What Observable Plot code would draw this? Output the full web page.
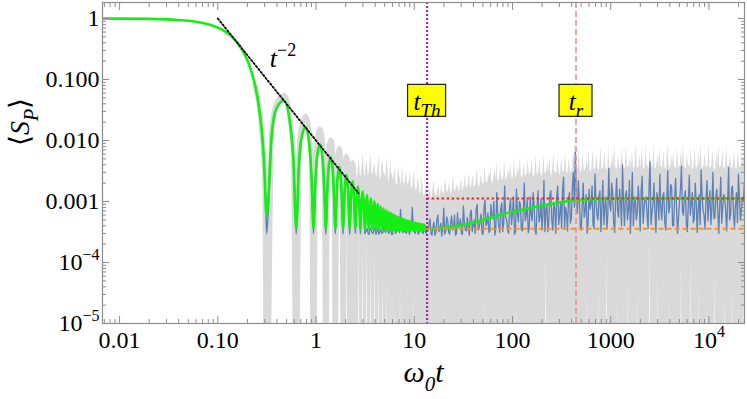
<!DOCTYPE html>
<html><head><meta charset="utf-8">
<script src="https://cdn.jsdelivr.net/npm/d3@7"></script>
<script src="https://cdn.jsdelivr.net/npm/@observablehq/plot@0.6"></script>
<style>
html,body{margin:0;padding:0;background:#fff}
</style>
</head><body><div id="chart"></div>
<script>
// ---------- data ----------
const xTicks = [0.01, 0.1, 1, 10, 100, 1000, 10000];
const xTickLabels = ["0.01", "0.10", "1", "10", "100", "1000", "10^4"];
const yTicks = [1e-5, 1e-4, 0.001, 0.01, 0.1, 1];
const yTickLabels = ["10^\u22125", "10^\u22124", "0.001", "0.010", "0.100", "1"];

const tThouless = 13.5;      // purple dotted line
const tRelax = 443;          // pink dashed line
const plateauHigh = 0.00112; // red dotted
const plateauLow = 0.000356; // orange dashed
const labelS = 0.043;        // height of the yellow labels
const powerLabelT = 0.338, powerLabelS = 0.22;

// t^-2 guide
const guideT = [0.1, 2.7];
const guideS = [1.0, 0.00137];

// green: mean curve
const greenT = [0.0067, 0.02, 0.04, 0.06, 0.08, 0.1, 0.12, 0.14, 0.16, 0.18, 0.2, 0.22, 0.24, 0.26, 0.28, 0.29, 0.30, 0.305, 0.31, 0.3142,
  0.3534, 0.3927, 0.4712, 0.5498, 0.5890, 0.6283,
  0.6676, 0.7069, 0.7854, 0.8639, 0.9032, 0.9425,
  0.9817, 1.0210, 1.0996, 1.1781, 1.2174, 1.2566,
  1.2959, 1.3352, 1.4137, 1.4923, 1.5315, 1.5708,
  1.6101, 1.6493, 1.7279, 1.8064, 1.8457, 1.885,
  1.9242, 1.9635, 2.0420, 2.1206, 2.1598, 2.1991,
  2.2384, 2.2777, 2.3562, 2.4347, 2.4740, 2.5133,
  2.5525, 2.5918, 2.6704, 2.7489, 2.7882, 2.8274,
  2.9060, 2.9845, 3.0631, 3.1416,
  3.2987, 3.4558, 3.6128, 3.7699, 3.9270, 4.0841, 4.2412, 4.3982, 4.5553, 4.7124,
  4.8695, 5.0265, 5.1836, 5.3407, 5.4978, 5.6549, 5.8119, 5.9690, 6.1261, 6.2832,
  6.4403, 6.5973, 6.7544, 6.9115, 7.0686, 7.2257, 7.3827, 7.5398, 7.6969, 7.8540,
  8.0111, 8.1681, 8.3252, 8.4823, 8.6394, 8.7965, 8.9535, 9.1106, 9.2677, 9.4248,
  9.5819, 9.7389, 9.8960, 10.0531, 10.2102, 10.3673, 10.5243, 10.6814, 10.8385, 10.9956,
  11.1527, 11.3097, 11.4668, 11.6239, 11.7810, 11.9381, 12.0951, 12.2522, 12.4093, 12.5664,
  12.7235, 12.8805,
  13.5, 20, 29, 40, 55, 80, 120, 180, 262, 350, 453, 700, 1200, 3000, 23000];
const greenS = [1.0, 0.987, 0.948, 0.886, 0.804, 0.708, 0.603, 0.496, 0.390, 0.293, 0.207, 0.135, 0.0793, 0.0396, 0.0146, 0.0071, 0.0026, 0.00125, 0.0007, 0.00058,
  0.0121, 0.0328, 0.0454, 0.0169, 0.00457, 0.00036,
  0.00364, 0.01036, 0.01656, 0.00705, 0.00215, 0.00036,
  0.00187, 0.00515, 0.00862, 0.00395, 0.00134, 0.00036,
  0.00122, 0.00315, 0.00535, 0.0026, 0.00097, 0.00036,
  0.000915, 0.00219, 0.0037, 0.00188, 0.00078, 0.00036,
  0.000746, 0.00165, 0.00275, 0.00146, 0.000664, 0.00036,
  0.000642, 0.00131, 0.00215, 0.00119, 0.000589, 0.00036,
  0.000575, 0.00109, 0.00175, 0.00101, 0.000538, 0.00035,
  0.000942, 0.00147, 0.000883, 0.00035,
  0.00127, 0.00035, 0.00112, 0.00035, 0.000998, 0.00035, 0.000906, 0.00035, 0.000832, 0.00035,
  0.000772, 0.00034, 0.000722, 0.00034, 0.000681, 0.00034, 0.000646, 0.00034, 0.000616, 0.00034,
  0.000591, 0.00034, 0.000569, 0.00034, 0.00055, 0.00034, 0.000533, 0.00034, 0.000519, 0.00034,
  0.000506, 0.00034, 0.000494, 0.00034, 0.000484, 0.00034, 0.000475, 0.00034, 0.000466, 0.00034,
  0.000459, 0.00034, 0.000452, 0.00034, 0.000446, 0.00034, 0.00044, 0.00034, 0.000435, 0.00034,
  0.00043, 0.00034, 0.000426, 0.00034, 0.000422, 0.00034, 0.000418, 0.00034, 0.000415, 0.00034,
  0.000412, 0.00034,
  0.00036, 0.00037, 0.000405, 0.00045, 0.00052, 0.00062, 0.00072, 0.00083, 0.00093, 0.001, 0.00105, 0.00109, 0.00111, 0.00112, 0.00112];

// zeros of the early oscillation and the blue minima there
const zeroT = [0.3142, 0.6283, 0.9425, 1.2566, 1.5708, 1.885, 2.1991, 2.5133, 2.8274, 3.1416];
const blueDipS = [2.95e-4, 2.95e-4, 3.0e-4, 2.9e-4, 3.0e-4, 2.95e-4, 2.9e-4, 3.0e-4, 2.95e-4, 3.0e-4];

// gray: single realisation, early lobes (0 = below the axis)
const grayLobeT = [0.24, 0.28, 0.30, 0.3142, 0.3534, 0.3927, 0.4712, 0.5498, 0.5890, 0.6283, 0.6676, 0.7069, 0.7854, 0.8639, 0.9032, 0.9425,
  0.9817, 1.0210, 1.0996, 1.1781, 1.2174, 1.2566, 1.2959, 1.3352, 1.4137, 1.4923, 1.5315, 1.5708, 1.6101, 1.6493, 1.7279, 1.8064, 1.8457, 1.885,
  1.9242, 1.9635, 2.0420, 2.1206, 2.1598, 2.1991, 2.2384, 2.2777, 2.3562, 2.4347, 2.4740, 2.5133];
const grayLobeS = [0.0793, 0.0146, 0.0026, 0, 0.0145, 0.039, 0.055, 0.020, 0.0055, 0, 0.0055, 0.0155, 0.025, 0.0106, 0.0032, 0,
  0.0034, 0.0093, 0.0155, 0.0071, 0.0024, 0, 0.0023, 0.006, 0.0102, 0.0049, 0.0018, 0, 0.0018, 0.0044, 0.0074, 0.0038, 0.0016, 0,
  0.0015, 0.0033, 0.0055, 0.0029, 0.0013, 0, 0.0013, 0.0026, 0.0043, 0.0024, 0.0012, 0];

// noisy part, sampled every 0.02 in log10(t) from log10(t) = 0.4 (and at the half steps); units of 1e-4
const noiseLogT0 = 0.4, noiseLogStep = 0.02;
const grayHi = [45, 22, 52, 26, 60, 24, 48, 30, 55, 27,
  42, 25, 58, 22, 47, 28, 52, 20, 44, 26,
  38, 18, 35, 22, 40, 17, 32, 20, 30, 16,
  33, 15, 25, 13, 28, 12, 17,
  12, 18, 11, 22, 13, 16, 12, 20, 13, 24,
  14, 21, 13, 26, 15, 19, 14, 23, 16, 28,
  17, 30, 16, 26, 18, 35, 17, 28, 19, 38,
  20, 29, 40, 19, 33, 45, 21, 36, 22, 48,
  24, 35, 42, 22, 50, 25, 38, 55, 24, 44,
  26, 52, 28, 46, 24, 58, 27, 48, 25, 60,
  28, 45, 55, 26, 62, 29, 50, 27, 57, 30,
  65, 28, 53, 30, 70, 120, 32, 75, 29, 62,
  33, 56, 68, 30, 72, 34, 60, 31, 82, 35,
  64, 32, 75, 36, 66, 90, 33, 58, 35, 78,
  34, 85, 37, 54, 68, 32, 95, 36, 60, 73,
  33, 80, 38, 64, 35, 88, 34, 62, 76, 36,
  70, 33, 92, 37, 57, 67, 34, 80, 36, 72,
  85, 35, 60, 38, 74, 33, 78, 36, 66, 90,
  34, 62, 37, 88, 35, 70, 32, 64, 80, 36,
  74, 34, 86, 38, 63, 35, 72, 33, 68, 37, 58, 66];
const grayHiHalf = [30, 35, 28, 40, 33, 38, 26, 42, 30, 36,
  28, 34, 25, 38, 30, 24, 36, 27, 30, 22,
  25, 20, 28, 18, 22, 24, 19, 21, 17, 20,
  18, 16, 19, 14, 15, 13, 12,
  13, 12, 15, 14, 12, 18, 13, 14, 16, 15,
  16, 14, 18, 15, 17, 16, 18, 15, 19, 17,
  19, 18, 22, 17, 20, 21, 19, 22, 20, 21,
  22, 24, 21, 25, 23, 22, 26, 24, 25, 23,
  26, 24, 28, 26, 25, 30, 27, 26, 29, 27,
  30, 28, 32, 27, 30, 29, 33, 28, 31, 30,
  32, 30, 28, 34, 31, 30, 35, 29, 32, 34,
  31, 36, 30, 33, 45, 40, 34, 32, 37, 31,
  36, 34, 32, 38, 33, 37, 35, 40, 33, 36,
  38, 34, 36, 42, 33, 39, 36, 35, 41, 34,
  37, 36, 40, 33, 38, 42, 35, 37, 34, 40,
  36, 39, 34, 41, 37, 35, 40, 36, 38, 35,
  39, 36, 42, 34, 38, 40, 35, 37, 41, 36,
  38, 35, 40, 37, 36, 42, 34, 39, 37, 35,
  40, 36, 38, 35, 41, 37, 34, 39, 36, 40,
  35, 38, 37, 40, 34, 39, 36, 38, 35, 37, 39];
const grayLo = [3, 0, 4, 0, 2.5, 0, 3, 0, 1.5, 0,
  2, 0, 1, 0, 0.8, 0, 0.5, 0, 0.3, 0,
  0.2, 0, 0, 0.4, 0, 0, 0.15, 0, 0, 0,
  0.3, 0, 0, 0.12, 0, 0, 0,
  0, 0, 0, 0, 0, 0, 0, 0, 0.2, 0,
  0, 0, 0, 0, 0, 0, 0, 0.15, 0, 0,
  0, 0.12, 0, 0, 0, 0, 0, 0, 0, 0.3,
  0, 0, 0, 0, 0, 0, 0, 0.15, 0, 0,
  0, 0, 0, 0, 0, 0.25, 0, 0, 0, 0,
  0, 0, 0, 0.12, 0, 0, 0, 0, 0, 0,
  1.5, 0, 0, 0, 0, 0, 0, 0.18, 0, 0,
  0, 0, 0, 0, 0, 0.2, 0, 0, 0, 0,
  0, 0.3, 0, 0, 0, 0, 0, 0.4, 0, 0,
  0, 1.6, 0, 0, 0, 0, 0.2, 0, 0, 0,
  0, 0, 0.5, 0, 0, 0, 0, 0.3, 0, 0,
  0, 0, 0, 2.6, 0, 0, 0, 0.6, 0, 0,
  0, 0, 0, 0.25, 0, 0, 0, 0, 0, 1.2,
  0, 0, 0, 0, 1.2, 0, 0, 0, 0.4, 0,
  0, 0, 0.2, 0, 0, 0, 0.7, 0, 0, 0,
  0, 0.3, 0, 0, 0, 0.5, 0, 0, 0.2, 0, 0, 0.6];
const blueNoise = [null, null, null, null, null,
  3.1, 3.6, 2.9, 3.4, 3.0, 3.8, 3.2, 2.9, 3.5, 3.1,
  3.3, 4.2, 3.0, 3.6, 2.9, 4.4, 3.2, 3.8, 7.4, 3.1,
  3.5, 3.0, 4.1, 3.3, 8.0, 3.2, 3.7, 2.9, 4.3, 3.1, 3.6, 3.0,
  3.4, 5.2, 2.8, 4.6, 3.1, 6.0, 3.5, 2.7, 7.8, 3.3,
  4.9, 2.9, 5.8, 3.6, 2.8, 6.5, 4.0, 3.0, 8.5, 3.4,
  5.5, 2.8, 7.2, 4.1, 3.0, 9.0, 3.6, 6.2, 2.9, 10.5,
  4.4, 3.1, 9.0, 5.2, 2.8, 14.0, 4.0, 7.5, 3.2, 18.0,
  5.0, 3.0, 11.0, 6.5, 2.9, 16.0, 4.6, 9.0, 3.3, 20.0,
  6.0, 3.1, 12.0, 4.8, 8.5, 2.9, 15.0, 5.5, 3.4, 22.0,
  7.0, 3.2, 13.0, 5.0, 9.5, 3.0, 18.0, 6.0, 3.6, 25.0,
  8.0, 3.3, 14.0, 5.5, 30.0, 64.0, 6.5, 11.0, 3.4, 20.0,
  7.0, 3.0, 16.0, 9.0, 4.2, 28.0, 6.0, 12.0, 3.2, 22.0,
  8.5, 3.5, 35.0, 7.0, 13.0, 3.1, 24.0, 5.5, 10.0, 40.0,
  4.0, 15.0, 7.5, 3.0, 30.0, 9.0, 5.0, 18.0, 3.3, 26.0,
  8.0, 12.0, 3.6, 45.0, 6.5, 20.0, 3.1, 11.0, 28.0, 5.0,
  14.0, 3.4, 32.0, 8.0, 17.0, 4.0, 24.0, 3.0, 10.0, 38.0,
  6.0, 15.0, 3.2, 27.0, 9.0, 4.5, 20.0, 3.1, 13.0, 33.0,
  7.0, 3.5, 22.0, 10.0, 4.2, 30.0, 5.5, 16.0, 3.0, 25.0,
  8.0, 12.0, 3.3, 36.0, 6.0, 18.0, 3.8, 14.0, 28.0, 5.0, 11.0, 20.0];
const blueNoiseHalf = [null, null, null, null, null,
  3.3, 3.0, 3.7, 3.1, 3.4, 2.9, 3.6, 3.2, 3.0, 3.8,
  3.1, 3.5, 3.3, 2.9, 3.9, 3.0, 3.4, 3.1, 4.0, 3.2,
  3.1, 3.6, 2.9, 3.5, 3.3, 3.0, 4.2, 3.1, 3.4, 3.0, 3.3, 3.5,
  4.2, 3.0, 3.8, 2.8, 5.0, 3.2, 4.4, 3.6, 2.9, 5.6,
  3.1, 4.5, 3.4, 6.0, 3.0, 3.8, 5.2, 2.9, 4.6, 3.3,
  3.9, 6.4, 3.2, 5.0, 7.5, 3.4, 4.8, 3.0, 8.0, 4.0,
  6.5, 3.3, 5.5, 10.0, 3.6, 6.0, 3.1, 9.5, 4.5, 5.5,
  3.4, 8.0, 4.2, 12.0, 3.2, 6.5, 10.0, 3.5, 7.0, 4.8,
  10.5, 3.6, 6.0, 14.0, 3.3, 8.0, 4.6, 11.0, 6.0, 3.2,
  9.0, 5.0, 15.0, 3.4, 7.5, 12.0, 4.2, 9.5, 16.0, 3.5,
  6.5, 11.0, 4.4, 18.0, 8.0, 12.0, 22.0, 4.0, 9.0, 5.5,
  13.0, 4.6, 7.5, 18.0, 3.6, 10.0, 5.0, 15.0, 8.0, 4.2,
  12.0, 6.0, 9.0, 20.0, 4.5, 11.0, 7.0, 16.0, 4.0, 9.5,
  13.0, 5.0, 22.0, 8.5, 4.0, 12.0, 6.5, 10.0, 15.0, 4.4,
  11.0, 6.0, 17.0, 4.2, 9.0, 7.0, 14.0, 5.0, 8.0, 12.0,
  4.6, 10.0, 6.5, 19.0, 4.0, 11.0, 8.0, 5.5, 16.0, 7.0,
  12.0, 4.3, 9.5, 6.0, 14.0, 5.0, 10.0, 7.5, 4.2, 13.0,
  6.0, 11.0, 4.8, 15.0, 8.0, 5.2, 12.0, 6.5, 9.0, 4.4,
  13.0, 7.0, 10.0, 5.0, 16.0, 6.0, 9.0, 4.5, 12.0, 7.5, 10.0];

// ---------- tables ----------
const xDomain = [0.0067, 23000];
const yDomain = [1e-5, 1.83];
const BELOW = 1e-7;
const gridT = i => 10 ** (noiseLogT0 + noiseLogStep * i);
const greenData = greenT.map((t, i) => ({t, s: greenS[i]}));
const zeroIndex = new Map(zeroT.map((t, k) => [t, k]));
const blueEarly = greenData.filter(d => d.t >= 0.24 && d.t <= 3.1416)
  .map(d => zeroIndex.has(d.t) ? {t: d.t, s: blueDipS[zeroIndex.get(d.t)]} : d);
const grayLobes = grayLobeT.map((t, i) => ({t, s: grayLobeS[i] > 0 ? grayLobeS[i] : BELOW}));
const grayNoise = [
  ...grayHi.map((v, i) => ({t: gridT(i), hi: v * 1e-4, lo: grayLo[i] > 0 ? grayLo[i] * 1e-4 : BELOW})),
  ...grayHiHalf.map((v, i) => ({t: gridT(i + 0.5), hi: v * 1e-4, lo: BELOW}))
].sort((a, b) => a.t - b.t);
const blueNoiseData = [
  ...blueNoise.map((v, i) => ({t: gridT(i), v})),
  ...blueNoiseHalf.map((v, i) => ({t: gridT(i + 0.5), v}))
].filter(d => d.v != null).map(d => ({t: d.t, s: d.v * 1e-4})).sort((a, b) => a.t - b.t);
const guideData = guideT.map((t, i) => ({t, s: guideS[i]}));

function minorTicks(lo, hi) {
  const out = [];
  for (let e = -8; e <= 6; e++) for (let m = 2; m <= 9; m++) {
    const v = m * 10 ** e;
    if (v > lo && v < hi) out.push(v);
  }
  return out;
}
const xMinor = minorTicks(xDomain[0], xDomain[1]);
const yMinor = minorTicks(yDomain[0], yDomain[1]);
const xLabelMap = new Map(xTicks.map((v, i) => [v, xTickLabels[i]]));
const yLabelMap = new Map(yTicks.map((v, i) => [v, yTickLabels[i]]));

const C = {
  gray: "#d9d9d9", blue: "#5e81b5", green: "#14ee14", red: "#e8262a", orange: "#f7931e",
  pink: "#f08a8a", purple: "#9a2ea0", frame: "#8c8c8c"
};
const SERIF = "'Liberation Serif', serif";

const svg = Plot.plot({
  width: 747, height: 399,
  marginLeft: 102, marginRight: 3, marginTop: 2, marginBottom: 76,
  x: {type: "log", domain: xDomain},
  y: {type: "log", domain: yDomain},
  style: `font-family: ${SERIF}; font-size: 24px; background: #fff; color: #000; overflow: visible;`,
  marks: [
    Plot.areaY(grayNoise, {x: "t", y1: "lo", y2: "hi", fill: C.gray, clip: true}),
    Plot.line(grayLobes, {x: "t", y: "s", stroke: C.gray, strokeWidth: 5, curve: "monotone-x", clip: true}),
    Plot.line(blueEarly, {x: "t", y: "s", stroke: C.blue, strokeWidth: 1.6, curve: "monotone-x", clip: true}),
    Plot.line(blueNoiseData, {x: "t", y: "s", stroke: C.blue, strokeWidth: 1.3, clip: true}),
    Plot.line(greenData, {x: "t", y: "s", stroke: C.green, strokeWidth: 2.6, curve: "monotone-x", clip: true}),
    Plot.line(guideData, {x: "t", y: "s", stroke: "#000", strokeWidth: 1.8, strokeDasharray: "1.6,2.2"}),
    Plot.ruleY([{y: plateauHigh, x1: tThouless, x2: xDomain[1]}], {y: "y", x1: "x1", x2: "x2", stroke: C.red, strokeWidth: 2, strokeDasharray: "2.5,2.5"}),
    Plot.ruleY([{y: plateauLow, x1: tThouless, x2: xDomain[1]}], {y: "y", x1: "x1", x2: "x2", stroke: C.orange, strokeWidth: 2, strokeDasharray: "5,3"}),
    Plot.ruleX([tThouless], {stroke: C.purple, strokeWidth: 2.2, strokeDasharray: "2,2"}),
    Plot.ruleX([tRelax], {stroke: C.pink, strokeWidth: 1.5, strokeDasharray: "6,3"}),
    Plot.frame({stroke: C.frame, strokeWidth: 1.2}),
    // inward ticks on all four sides
    Plot.axisX(xTicks, {anchor: "bottom", tickSize: 7, dy: -7, fill: "none", stroke: C.frame, label: null}),
    Plot.axisX(xMinor, {anchor: "bottom", tickSize: 4, dy: -4, fill: "none", stroke: C.frame, label: null}),
    Plot.axisX(xTicks, {anchor: "top", tickSize: 7, dy: 7, fill: "none", stroke: C.frame, label: null}),
    Plot.axisX(xMinor, {anchor: "top", tickSize: 4, dy: 4, fill: "none", stroke: C.frame, label: null}),
    Plot.axisY(yTicks, {anchor: "left", tickSize: 7, dx: 7, fill: "none", stroke: C.frame, label: null}),
    Plot.axisY(yMinor, {anchor: "left", tickSize: 4, dx: 4, fill: "none", stroke: C.frame, label: null}),
    Plot.axisY(yTicks, {anchor: "right", tickSize: 7, dx: -7, fill: "none", stroke: C.frame, label: null}),
    Plot.axisY(yMinor, {anchor: "right", tickSize: 4, dx: -4, fill: "none", stroke: C.frame, label: null}),
    // tick labels
    Plot.axisX(xTicks, {anchor: "bottom", tickSize: 0, tickPadding: 7, tickFormat: d => xLabelMap.get(d), fontSize: 24, fontFamily: SERIF, label: null}),
    Plot.axisY(yTicks, {anchor: "left", tickSize: 0, tickPadding: 3, tickFormat: d => yLabelMap.get(d), fontSize: 24, fontFamily: SERIF, label: null}),
    // annotations
    Plot.text([{t: powerLabelT, s: powerLabelS}], {x: "t", y: "s", text: () => "t^\u22122", textAnchor: "start", fontSize: 26, fontFamily: SERIF}),
    Plot.text([{t: tThouless, s: labelS, k: "t_Th"}, {t: tRelax, s: labelS, k: "t_r"}], {x: "t", y: "s", text: "k", fontSize: 25, fontFamily: SERIF}),
    Plot.text(["\u27e8S_P\u27e9"], {frameAnchor: "left", dx: -82, dy: -17, rotate: -90, text: d => d, fontSize: 28, fontFamily: SERIF}),
    Plot.text(["\u03c9_0t"], {frameAnchor: "bottom", dy: 58, text: d => d, fontSize: 30, fontFamily: SERIF})
  ]
});
document.getElementById("chart").appendChild(svg);

// ---------- rich text (sub/superscripts) ----------
const NS = "http://www.w3.org/2000/svg";
const richMap = {
  "10^4": {base: 24, parts: [{t: "10"}, {t: "4", sup: true, size: 16}]},
  "10^\u22124": {base: 24, parts: [{t: "10"}, {t: "\u22124", sup: true, size: 16}]},
  "10^\u22125": {base: 24, parts: [{t: "10"}, {t: "\u22125", sup: true, size: 16}]},
  "t^\u22122": {base: 26, parts: [{t: "t", italic: true}, {t: "\u22122", sup: true, size: 18}]},
  "t_Th": {base: 25, parts: [{t: "t", italic: true}, {t: "Th", italic: true, sub: true, size: 19}]},
  "t_r": {base: 25, parts: [{t: "t", italic: true}, {t: "r", italic: true, sub: true, size: 19}]},
  "\u27e8S_P\u27e9": {base: 28, parts: [{t: "\u27e8"}, {t: "S", italic: true}, {t: "P", italic: true, sub: true, size: 20}, {t: "\u27e9"}]},
  "\u03c9_0t": {base: 30, parts: [{t: "\u03c9", italic: true}, {t: "0", italic: true, sub: true, size: 21}, {t: "t", italic: true}]}
};
function rich(el, spec) {
  while (el.firstChild) el.removeChild(el.firstChild);
  let shift = 0;
  for (const p of spec.parts) {
    const ts = document.createElementNS(NS, "tspan");
    const target = p.sub ? 0.3 * spec.base : p.sup ? -0.42 * spec.base : 0;
    if (target - shift !== 0) ts.setAttribute("dy", target - shift);
    shift = target;
    if (p.italic) ts.setAttribute("font-style", "italic");
    if (p.size) ts.setAttribute("font-size", p.size);
    ts.textContent = p.t;
    el.appendChild(ts);
  }
}
const found = {};
svg.querySelectorAll("text").forEach(el => {
  el.style.fontFamily = SERIF;
  const key = el.textContent;
  const spec = richMap[key];
  if (spec) { rich(el, spec); found[key] = el; }
});

// yellow frames behind the time labels
const xs = svg.scale("x"), ys = svg.scale("y");
[["t_Th", tThouless], ["t_r", tRelax]].forEach(([key, t]) => {
  const el = found[key];
  if (!el) return;
  let bw = 24;
  try { bw = el.getBBox().width; } catch (e) {}
  const w = Math.max(bw + 11, 33), h = 32;
  const cx = xs.apply(t), cy = ys.apply(labelS) - 1;
  const r = document.createElementNS(NS, "rect");
  r.setAttribute("x", cx - w / 2); r.setAttribute("y", cy - h / 2);
  r.setAttribute("width", w); r.setAttribute("height", h);
  r.setAttribute("fill", "#ffff00"); r.setAttribute("stroke", "#222"); r.setAttribute("stroke-width", 1.2);
  const g = el.parentNode;
  g.parentNode.insertBefore(r, g);
});
</script>
</body></html>
